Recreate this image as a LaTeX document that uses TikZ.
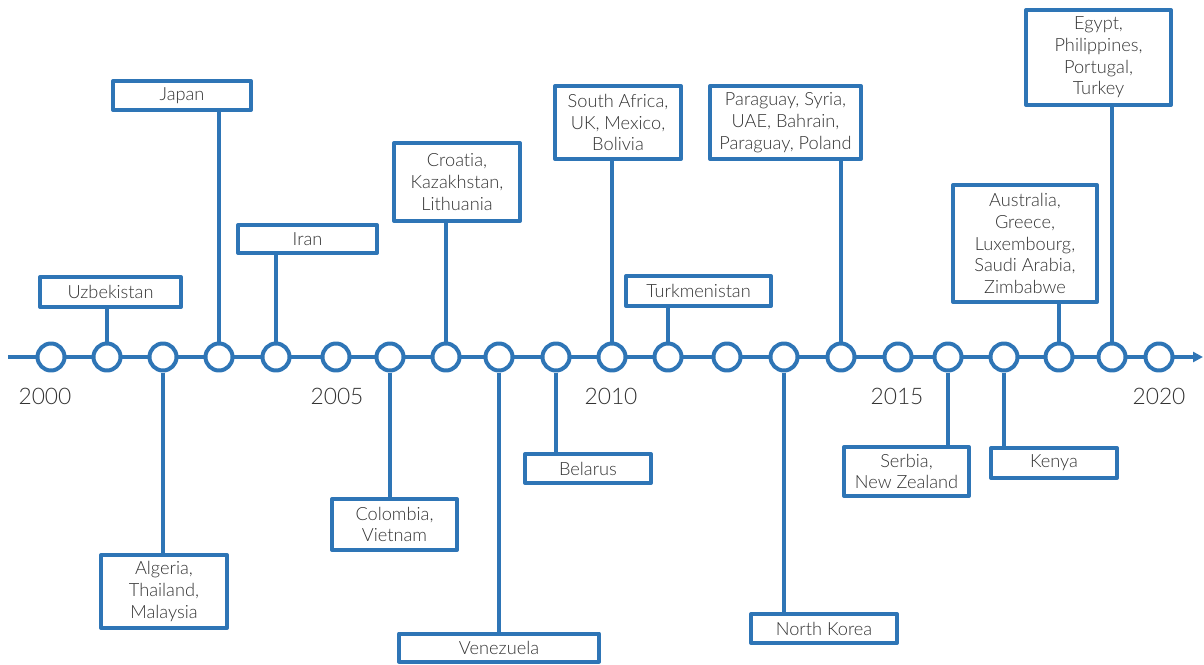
\documentclass[tikz,border=0pt]{standalone}
\usepackage{fontspec}
\setmainfont{Lato}[UprightFont={* Light},Ligatures=NoCommon]
\usetikzlibrary{arrows.meta}
\definecolor{tlblue}{HTML}{2E75B6}
\definecolor{tltext}{HTML}{333333}
\begin{document}
\begin{tikzpicture}[x=0.5pt,y=-0.5pt,line join=round,>={Triangle[length=5pt,width=5pt]}]
\tikzset{yr/.style={circle,draw=tlblue,fill=white,line width=2pt,minimum size=13.5pt,inner sep=0pt},
  cbox/.style 2 args={draw=tlblue,line width=2pt,fill=white,align=center,inner sep=0pt,
    minimum width=#1pt,minimum height=#2pt,text=tltext,font=\fontsize{9.1}{10.85}\selectfont},
  stem/.style={draw=tlblue,line width=2pt},
  yrlabel/.style={text=tltext,font=\fontsize{11.4}{14}\selectfont}}
\useasboundingbox (0,0) rectangle (1204,664);
\coordinate (tl0) at (8,357);
\coordinate (tl1) at (1203,357);
\draw[tlblue,line width=2pt,->] (tl0) -- (tl1);
\foreach \x [count=\i from 0] in {51,107,163,219,276,336,390,446,499,556,612,668,727,784,841,898,948,1004,1059,1112,1159}{
	\pgfmathtruncatemacro\yr{2000+\i}
	\node[yr] (y\yr) at (\x,357) {};
}
\foreach \x/\yr in {45/2000,337/2005,611/2010,897/2015,1159/2020}
	\node[yrlabel] (l\yr) at (\x,396) {\yr};
% above the line
\node[cbox={70.5}{15}] (uzb) at (110.5,292) {Uzbekistan};
\node[cbox={69}{14.5}] (japan) at (182,95.5) {Japan};
\node[cbox={69.5}{14}] (iran) at (307.5,239) {Iran};
\node[cbox={63}{39}] (croatia) at (457,182) {Croatia,\\Kazakhstan,\\Lithuania};
\node[cbox={63}{36.5}] (safrica) at (618,122.5) {South Africa,\\UK, Mexico,\\Bolivia};
\node[cbox={72.5}{15}] (turkmen) at (698.5,291) {Turkmenistan};
\node[cbox={75.5}{36.5}] (paraguay) at (785.5,122.5) {Paraguay, Syria,\\UAE, Bahrain,\\Paraguay, Poland};
\node[cbox={72}{58.5}] (australia) at (1025,243.5) {Australia,\\Greece,\\Luxembourg,\\Saudi Arabia,\\Zimbabwe};
\node[cbox={72.5}{47.5}] (egypt) at (1098.5,57.5) {Egypt,\\Philippines,\\Portugal,\\Turkey};
% below the line
\node[cbox={63}{36.5}] (algeria) at (164,591.5) {Algeria,\\Thailand,\\Malaysia};
\node[cbox={62.5}{25.5}] (colombia) at (394.5,524.5) {Colombia,\\Vietnam};
\node[cbox={100}{14}] (venezuela) at (499,647.5) {Venezuela};
\node[cbox={63}{14.5}] (belarus) at (588,468.5) {Belarus};
\node[cbox={73}{14.5}] (nkorea) at (824,628.5) {North Korea};
\node[cbox={62.5}{24.5}] (serbia) at (906.5,471.5) {Serbia,\\New Zealand};
\node[cbox={63}{15}] (kenya) at (1054,463) {Kenya};
\foreach \yr/\b in {2001/uzb,2003/japan,2004/iran,2007/croatia,2010/safrica,2011/turkmen,2014/paraguay,2018/australia,2019/egypt}
	\draw[stem] (y\yr.north) -- (y\yr.north |- \b.south);
\foreach \yr/\b in {2002/algeria,2006/colombia,2008/venezuela,2009/belarus,2013/nkorea,2016/serbia,2017/kenya}
	\draw[stem] (y\yr.south) -- (y\yr.south |- \b.north);
\end{tikzpicture}
\end{document}
